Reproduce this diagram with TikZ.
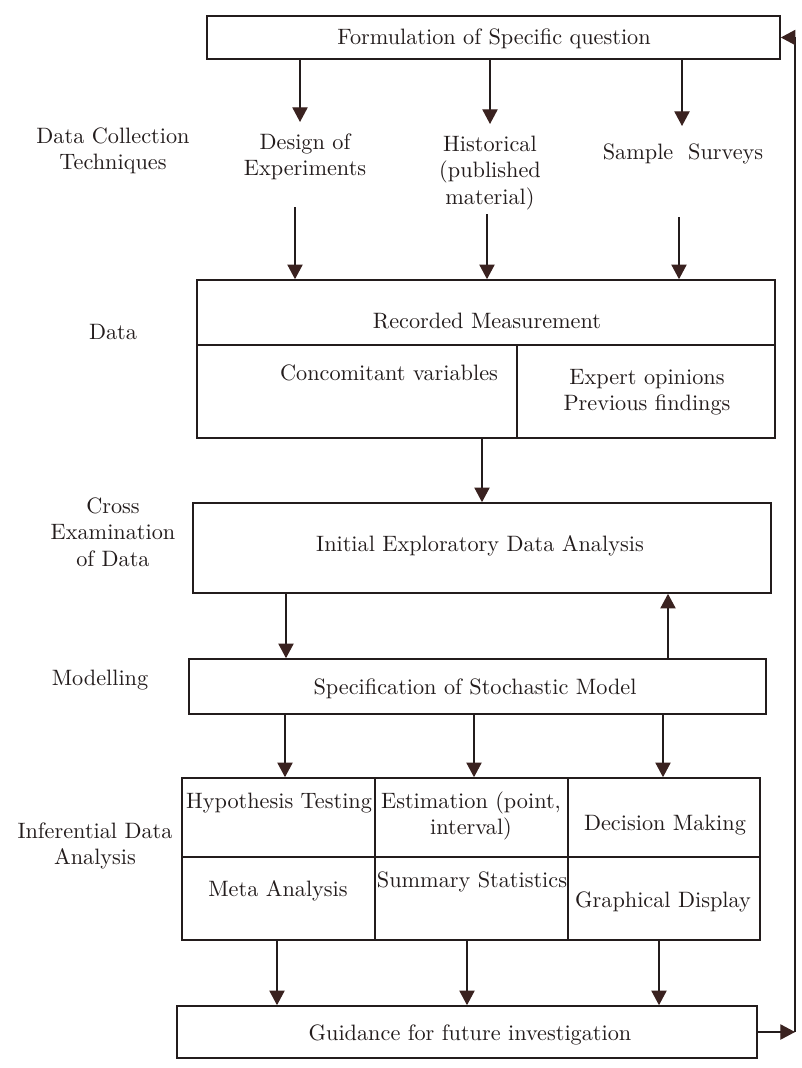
\documentclass[tikz,border=0pt]{standalone}
\usepackage{fontspec}
\setmainfont{lmroman10}[Extension=.otf, UprightFont=*-regular]
\usetikzlibrary{arrows.meta}
\definecolor{inkc}{HTML}{231C1C}
\definecolor{headc}{HTML}{3A2220}
\newcommand{\mybox}[5]{\node[box, minimum width={(#4-#2)*0.03cm}, minimum height={(#5-#3)*0.03cm}] (#1) at ({(#2+#4)/2},{(#3+#5)/2}) {};}
\tikzset{
  box/.style={draw=inkc, line width=1.4pt, inner sep=0pt, fill=none},
  arr/.style={draw=inkc, line width=1.1pt, -{Triangle[length=0.44cm,width=0.46cm,color=headc]}},
  txt/.style={align=center, inner sep=0pt, font=\fontsize{19}{22.5}\selectfont, text=inkc}
}
\begin{document}
\begin{tikzpicture}[x=0.03cm,y=-0.03cm]
\useasboundingbox (0,0) rectangle (801,1068);
% boxes
\mybox{top}{207}{16}{780}{59}
\mybox{rec}{197}{280}{775}{345}
\mybox{conc}{197}{345}{517}{438}
\mybox{expert}{517}{345}{775}{438}
\mybox{ieda}{193}{503}{771}{593}
\mybox{spec}{189}{659}{766}{714}
\mybox{hyp}{182}{778}{375}{857}
\mybox{est}{375}{778}{568}{857}
\mybox{dec}{568}{778}{760}{857}
\mybox{meta}{182}{857}{375}{940}
\mybox{summ}{375}{857}{568}{940}
\mybox{graph}{568}{857}{760}{940}
\mybox{guid}{177}{1006}{757}{1058}
% texts inside boxes
\node[txt] (ttop) at (494,39) {Formulation of Specific question};
\node[txt] (trec) at (487,321) {Recorded Measurement};
\node[txt] (tconc) at (389,373) {Concomitant variables};
\node[txt] (texp) at (647,392) {Expert opinions\\Previous findings};
\node[txt] (tieda) at (480,546) {Initial Exploratory Data Analysis};
\node[txt] (tspec) at (475,689) {Specification of Stochastic Model};
\node[txt] (thyp) at (279,803) {Hypothesis Testing};
\node[txt] (test) at (471,816) {Estimation (point,\\interval)};
\node[txt] (tdec) at (665,825) {Decision Making};
\node[txt] (tmeta) at (278,891) {Meta Analysis};
\node[txt] (tsumm) at (472,882) {Summary Statistics};
\node[txt] (tgraph) at (663,902) {Graphical Display};
\node[txt] (tguid) at (470,1035) {Guidance for future investigation};
% technique labels
\node[txt] (design) at (305,157) {Design of\\Experiments};
\node[txt] (hist) at (490,173) {Historical\\(published\\material)};
\node[txt] (samp) at (683,154) {Sample\ \ Surveys};
% left labels
\node[txt] (lcoll) at (113,151) {Data Collection\\Techniques};
\node[txt] (ldata) at (113,332) {Data};
\node[txt] (lcross) at (113,532) {Cross\\Examination\\of Data};
\node[txt] (lmod) at (100,680) {Modelling};
\node[txt] (linf) at (95,846) {Inferential Data\\Analysis};
% arrows top -> techniques
\coordinate (a1) at (300,122);
\coordinate (a2) at (490,124);
\coordinate (a3) at (682,126);
\draw[arr] (top.south -| a1) -- (a1);
\draw[arr] (top.south -| a2) -- (a2);
\draw[arr] (top.south -| a3) -- (a3);
% techniques -> data
\coordinate (b1) at (295,207);
\coordinate (b2) at (487,214);
\coordinate (b3) at (679,217);
\draw[arr] (b1) -- (b1 |- rec.north);
\draw[arr] (b2) -- (b2 |- rec.north);
\draw[arr] (b3) -- (b3 |- rec.north);
% data -> ieda
\coordinate (c1) at (482,0);
\draw[arr] (conc.south -| c1) -- (ieda.north -| c1);
% ieda <-> spec
\coordinate (c2) at (286,0);
\coordinate (c3) at (668,0);
\draw[arr] (ieda.south -| c2) -- (spec.north -| c2);
\draw[arr] (spec.north -| c3) -- (ieda.south -| c3);
% spec -> inferential
\coordinate (e1) at (285,0);
\coordinate (e2) at (474,0);
\coordinate (e3) at (663,0);
\draw[arr] (spec.south -| e1) -- (hyp.north -| e1);
\draw[arr] (spec.south -| e2) -- (est.north -| e2);
\draw[arr] (spec.south -| e3) -- (dec.north -| e3);
% inferential -> guidance
\coordinate (f1) at (277,0);
\coordinate (f2) at (467,0);
\coordinate (f3) at (659,0);
\draw[arr] (meta.south -| f1) -- (guid.north -| f1);
\draw[arr] (summ.south -| f2) -- (guid.north -| f2);
\draw[arr] (graph.south -| f3) -- (guid.north -| f3);
% feedback loop
\coordinate (fb) at (795,0);
\draw[arr] (guid.east) -- (guid.east -| fb);
\draw[arr] (guid.east -| fb) -- (top.east -| fb) -- (top.east);
\end{tikzpicture}
\end{document}
